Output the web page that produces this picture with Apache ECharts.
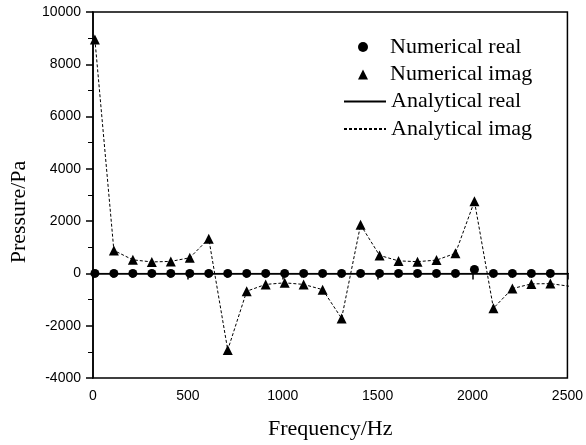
<!DOCTYPE html>
<html>
<head>
<meta charset="utf-8">
<script src="https://cdn.jsdelivr.net/npm/echarts@6/dist/echarts.min.js"></script>
<style>html,body{margin:0;padding:0;background:#fff}#c{width:586px;height:445px}</style>
</head>
<body>
<div id="c"></div>
<script>
var frequencies = [10,110,210,310,410,510,610,710,810,910,1010,1110,1210,1310,1410,1510,1610,1710,1810,1910,2010,2110,2210,2310,2410,2510];
var numericalReal = [0,0,0,0,0,0,0,0,0,0,0,0,0,0,0,0,0,0,0,0,150,0,0,0,0,0];
var numericalImag = [8950,880,520,440,460,600,1330,-2930,-680,-420,-360,-420,-620,-1720,1860,690,480,450,510,770,2760,-1330,-580,-400,-390,-490];
var analyticalReal = [0,0,0,0,0,0,0,0,0,0,0,0,0,0,0,0,0,0,0,0,0,0,0,0,0,0];
var analyticalImag = numericalImag.slice();
var xTicks = {min:0, max:2500, interval:500};
var yTicks = {min:-4000, max:10000, interval:2000};

function pairs(xs, ys){ return xs.map(function(x,i){ return [x, ys[i]]; }); }

var chart = echarts.init(document.getElementById('c'), null, {renderer:'canvas'});
var serif = '"Liberation Serif","Times New Roman",serif';
var sans = '"Liberation Sans",Arial,sans-serif';
var legendText = {fontFamily:serif, fontSize:22, color:'#000', lineHeight:22};
chart.setOption({
  animation:false,
  backgroundColor:'#fff',
  grid:{left:92, right:16, top:12, bottom:65, show:true, borderColor:'#000', borderWidth:1.5},
  legend:[{
    orient:'vertical', left:353, top:31, itemWidth:10, itemHeight:10, itemGap:5.5,
    textStyle:Object.assign({padding:[0,0,0,17]}, legendText),
    data:['Numerical real','Numerical imag']
  },{
    orient:'vertical', left:338, top:85.5, itemWidth:42, itemHeight:10, itemGap:5.5,
    textStyle:legendText,
    data:[{name:'Analytical real', itemStyle:{opacity:0}},{name:'Analytical imag', itemStyle:{opacity:0}}]
  }],
  xAxis:{
    type:'value', min:xTicks.min, max:xTicks.max, interval:xTicks.interval,
    name:'Frequency/Hz', nameLocation:'middle', nameGap:40,
    nameTextStyle:{fontFamily:serif, fontSize:22, color:'#000'},
    axisLine:{show:true, lineStyle:{color:'#000', width:1.5}},
    axisTick:{show:true, inside:false, length:6, lineStyle:{color:'#000', width:1.5}},
    minorTick:{show:true, splitNumber:5, length:4, lineStyle:{color:'#000', width:1}},
    axisLabel:{fontFamily:sans, fontSize:14, color:'#000', margin:11, formatter:function(v){return String(v);}},
    splitLine:{show:false}
  },
  yAxis:{
    type:'value', min:yTicks.min, max:yTicks.max, interval:yTicks.interval,
    name:'Pressure/Pa', nameLocation:'middle', nameGap:63,
    nameTextStyle:{fontFamily:serif, fontSize:22, color:'#000', padding:[0,34,0,0]},
    axisLine:{show:true, onZero:false, lineStyle:{color:'#000', width:1.5}},
    axisTick:{show:true, inside:false, length:7, lineStyle:{color:'#000', width:1.5}},
    minorTick:{show:true, splitNumber:2, length:5, lineStyle:{color:'#000', width:1}},
    axisLabel:{fontFamily:sans, fontSize:14, color:'#000', margin:12, formatter:function(v){return String(v);}},
    splitLine:{show:false}
  },
  series:[
    {name:'Numerical real', type:'scatter', symbol:'circle', symbolSize:9, z:5,
     itemStyle:{color:'#000', opacity:1}, data:pairs(frequencies, numericalReal)},
    {name:'Numerical imag', type:'scatter', symbol:'triangle', symbolSize:10, z:5,
     itemStyle:{color:'#000', opacity:1}, data:pairs(frequencies, numericalImag)},
    {name:'Analytical real', type:'line', symbol:'none', z:3,
     lineStyle:{color:'#000', width:1}, itemStyle:{color:'#000'}, data:pairs(frequencies, analyticalReal)},
    {name:'Analytical imag', type:'line', symbol:'none', z:3,
     lineStyle:{color:'#000', width:1, type:[3,2]}, itemStyle:{color:'#000'}, data:pairs(frequencies, analyticalImag)}
  ]
});
</script>
</body>
</html>
